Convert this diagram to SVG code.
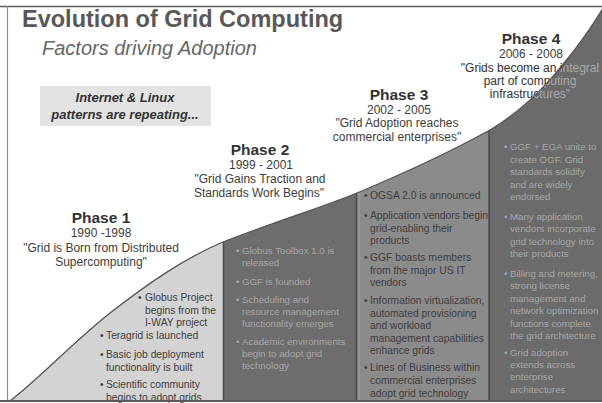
<svg xmlns="http://www.w3.org/2000/svg" width="602" height="403" viewBox="0 0 602 403">
  <defs>
    <style>
      text { font-family: "Liberation Sans", Arial, sans-serif; }
      .title { font-size: 23.5px; font-weight: bold; fill: #585858; }
      .sub { font-size: 20px; font-style: italic; fill: #666; }
      .note { font-size: 13px; font-weight: bold; font-style: italic; fill: #333; text-anchor: middle; }
      .ph { font-size: 15.5px; font-weight: bold; fill: #333; text-anchor: middle; }
      .phd { font-size: 12px; fill: #3c3c3c; text-anchor: middle; }
      .b { font-size: 10.3px; }
      .bs { font-size: 9.7px; }
      .dk { fill: #404040; }
      .lt { fill: #a6a6a6; }
      .sep { stroke: #4a4a4a; stroke-width: 1.5; }
    </style>
    <!-- area under the adoption curve -->
    <clipPath id="under">
      <path d="M10,401 C40,378 70,345 110,313 C150,282 185,258 223,242 C280,220 320,208 357,193 C400,175 450,152 490,130 C520,112 545,87 560,68 C575,50 590,30 603,8 L603,401 Z"/>
    </clipPath>
    <!-- phase 4 caption: dark on white, light where it crosses the dark column -->
    <linearGradient id="p4fill" gradientUnits="userSpaceOnUse" x1="500" y1="40" x2="560" y2="100">
      <stop offset="0" stop-color="#333"/>
      <stop offset="0.74" stop-color="#333"/>
      <stop offset="0.76" stop-color="#a8a8a8"/>
      <stop offset="1" stop-color="#a8a8a8"/>
    </linearGradient>
  </defs>

  <rect width="602" height="403" fill="#fff"/>

  <!-- column bands beneath the curve -->
  <g id="bands" clip-path="url(#under)">
    <rect x="0" y="0" width="224" height="403" fill="#d3d3d3"/>
    <rect x="224" y="0" width="133" height="403" fill="#6d6d6d"/>
    <rect x="357" y="0" width="132" height="403" fill="#8b8b8b"/>
    <rect x="489" y="0" width="113" height="403" fill="#6b6b6b"/>
    <line class="sep" x1="223.5" y1="0" x2="223.5" y2="403"/>
    <line class="sep" x1="356.5" y1="0" x2="356.5" y2="403"/>
    <line x1="359" y1="0" x2="359" y2="403" stroke="#9a9a9a" stroke-width="1.5"/>
    <line class="sep" x1="489" y1="0" x2="489" y2="403"/>
  </g>
  <path id="curve" d="M10,401 C40,378 70,345 110,313 C150,282 185,258 223,242 C280,220 320,208 357,193 C400,175 450,152 490,130 C520,112 545,87 560,68 C575,50 590,30 603,8" fill="none" stroke="#555" stroke-width="1.3"/>

  <!-- heading -->
  <g id="heading">
    <text class="title" x="22" y="27">Evolution of Grid Computing</text>
    <text class="sub" x="42" y="55">Factors driving Adoption</text>
  </g>

  <g id="note">
    <rect x="40" y="86" width="171" height="40" fill="#e3e3e3"/>
    <text class="note" x="125" y="102">Internet &amp; Linux</text>
    <text class="note" x="125" y="119">patterns are repeating...</text>
  </g>

  <!-- phase captions -->
  <g id="phase1">
    <text class="ph" x="101" y="223">Phase 1</text>
    <text class="phd" x="101" y="237">1990 -1998</text>
    <text class="phd" x="101" y="252">"Grid is Born from Distributed</text>
    <text class="phd" x="101" y="266">Supercomputing"</text>
  </g>
  <g id="phase2">
    <text class="ph" x="260" y="155">Phase 2</text>
    <text class="phd" x="261" y="169">1999 - 2001</text>
    <text class="phd" x="260" y="183">"Grid Gains Traction and</text>
    <text class="phd" x="259" y="197">Standards Work Begins"</text>
  </g>
  <g id="phase3">
    <text class="ph" x="399" y="100">Phase 3</text>
    <text class="phd" x="399" y="114">2002 - 2005</text>
    <text class="phd" x="397" y="127">"Grid Adoption reaches</text>
    <text class="phd" x="397" y="141">commercial enterprises"</text>
  </g>
  <g id="phase4">
    <text class="ph" x="531" y="44">Phase 4</text>
    <text class="phd" x="531" y="58">2006 - 2008</text>
    <text class="phd" x="530" y="72" style="fill:url(#p4fill)">"Grids become an integral</text>
    <text class="phd" x="530" y="85" style="fill:url(#p4fill)">part of computing</text>
    <text class="phd" x="530" y="98" style="fill:url(#p4fill)">infrastructures"</text>
  </g>

  <!-- phase 1 milestones -->
  <g id="list1" class="b dk">
    <text><tspan x="138" y="301">•</tspan><tspan x="145">Globus Project</tspan><tspan x="145" dy="12.5">begins from the</tspan><tspan x="145" dy="12.5">I-WAY project</tspan></text>
    <text><tspan x="100" y="339">•</tspan><tspan x="106">Teragrid is launched</tspan></text>
    <text><tspan x="100" y="358">•</tspan><tspan x="106">Basic job deployment</tspan><tspan x="106" dy="13">functionality is built</tspan></text>
    <text><tspan x="100" y="388">•</tspan><tspan x="106">Scientific community</tspan><tspan x="106" dy="12.5">begins to adopt grids</tspan></text>
  </g>

  <!-- phase 2 milestones -->
  <g id="list2" class="bs lt">
    <text><tspan x="236" y="254">•</tspan><tspan x="242">Globus Toolbox 1.0 is</tspan><tspan x="242" dy="12">released</tspan></text>
    <text><tspan x="236" y="285">•</tspan><tspan x="242">GGF is founded</tspan></text>
    <text><tspan x="236" y="303">•</tspan><tspan x="242">Scheduling and</tspan><tspan x="242" dy="12">resource management</tspan><tspan x="242" dy="12">functionality emerges</tspan></text>
    <text><tspan x="236" y="345">•</tspan><tspan x="242">Academic environments</tspan><tspan x="242" dy="12">begin to adopt grid</tspan><tspan x="242" dy="12">technology</tspan></text>
  </g>

  <!-- phase 3 milestones -->
  <g id="list3" class="b dk">
    <text><tspan x="364" y="199">•</tspan><tspan x="370">OGSA 2.0 is announced</tspan></text>
    <text><tspan x="364" y="219">•</tspan><tspan x="370">Application vendors begin</tspan><tspan x="370" dy="12.5">grid-enabling their</tspan><tspan x="370" dy="12.5">products</tspan></text>
    <text><tspan x="364" y="261">•</tspan><tspan x="370">GGF boasts members</tspan><tspan x="370" dy="12.5">from the major US IT</tspan><tspan x="370" dy="12.5">vendors</tspan></text>
    <text><tspan x="364" y="304">•</tspan><tspan x="370">Information virtualization,</tspan><tspan x="370" dy="12.5">automated provisioning</tspan><tspan x="370" dy="12.5">and workload</tspan><tspan x="370" dy="12.5">management capabilities</tspan><tspan x="370" dy="12.5">enhance grids</tspan></text>
    <text><tspan x="364" y="371">•</tspan><tspan x="370">Lines of Business within</tspan><tspan x="370" dy="13">commercial enterprises</tspan><tspan x="370" dy="13">adopt grid technology</tspan></text>
  </g>

  <!-- phase 4 milestones -->
  <g id="list4" class="bs lt">
    <text><tspan x="504" y="150">•</tspan><tspan x="510">GGF + EGA unite to</tspan><tspan x="510" dy="12.5">create OGF.  Grid</tspan><tspan x="510" dy="12.5">standards solidify</tspan><tspan x="510" dy="12.5">and are widely</tspan><tspan x="510" dy="12.5">endorsed</tspan></text>
    <text><tspan x="504" y="220">•</tspan><tspan x="510">Many application</tspan><tspan x="510" dy="12.4">vendors incorporate</tspan><tspan x="510" dy="12.4">grid technology into</tspan><tspan x="510" dy="12.4">their products</tspan></text>
    <text><tspan x="504" y="277">•</tspan><tspan x="510">Billing and metering,</tspan><tspan x="510" dy="12.4">strong license</tspan><tspan x="510" dy="12.4">management and</tspan><tspan x="510" dy="12.4">network optimization</tspan><tspan x="510" dy="12.4">functions complete</tspan><tspan x="510" dy="12.4">the grid architecture</tspan></text>
    <text><tspan x="504" y="356">•</tspan><tspan x="510">Grid adoption</tspan><tspan x="510" dy="12.2">extends across</tspan><tspan x="510" dy="12.2">enterprise</tspan><tspan x="510" dy="12.2">architectures</tspan></text>
  </g>

  <!-- frame -->
  <g id="frame" stroke="#5a5a5a" fill="none">
    <line x1="0" y1="6.5" x2="602" y2="6.5" stroke-width="1.5"/>
    <line x1="7.5" y1="6" x2="7.5" y2="402" stroke="#8a8a8a" stroke-width="1.2"/>
    <line x1="0" y1="401" x2="602" y2="401" stroke-width="2"/>
  </g>
</svg>
